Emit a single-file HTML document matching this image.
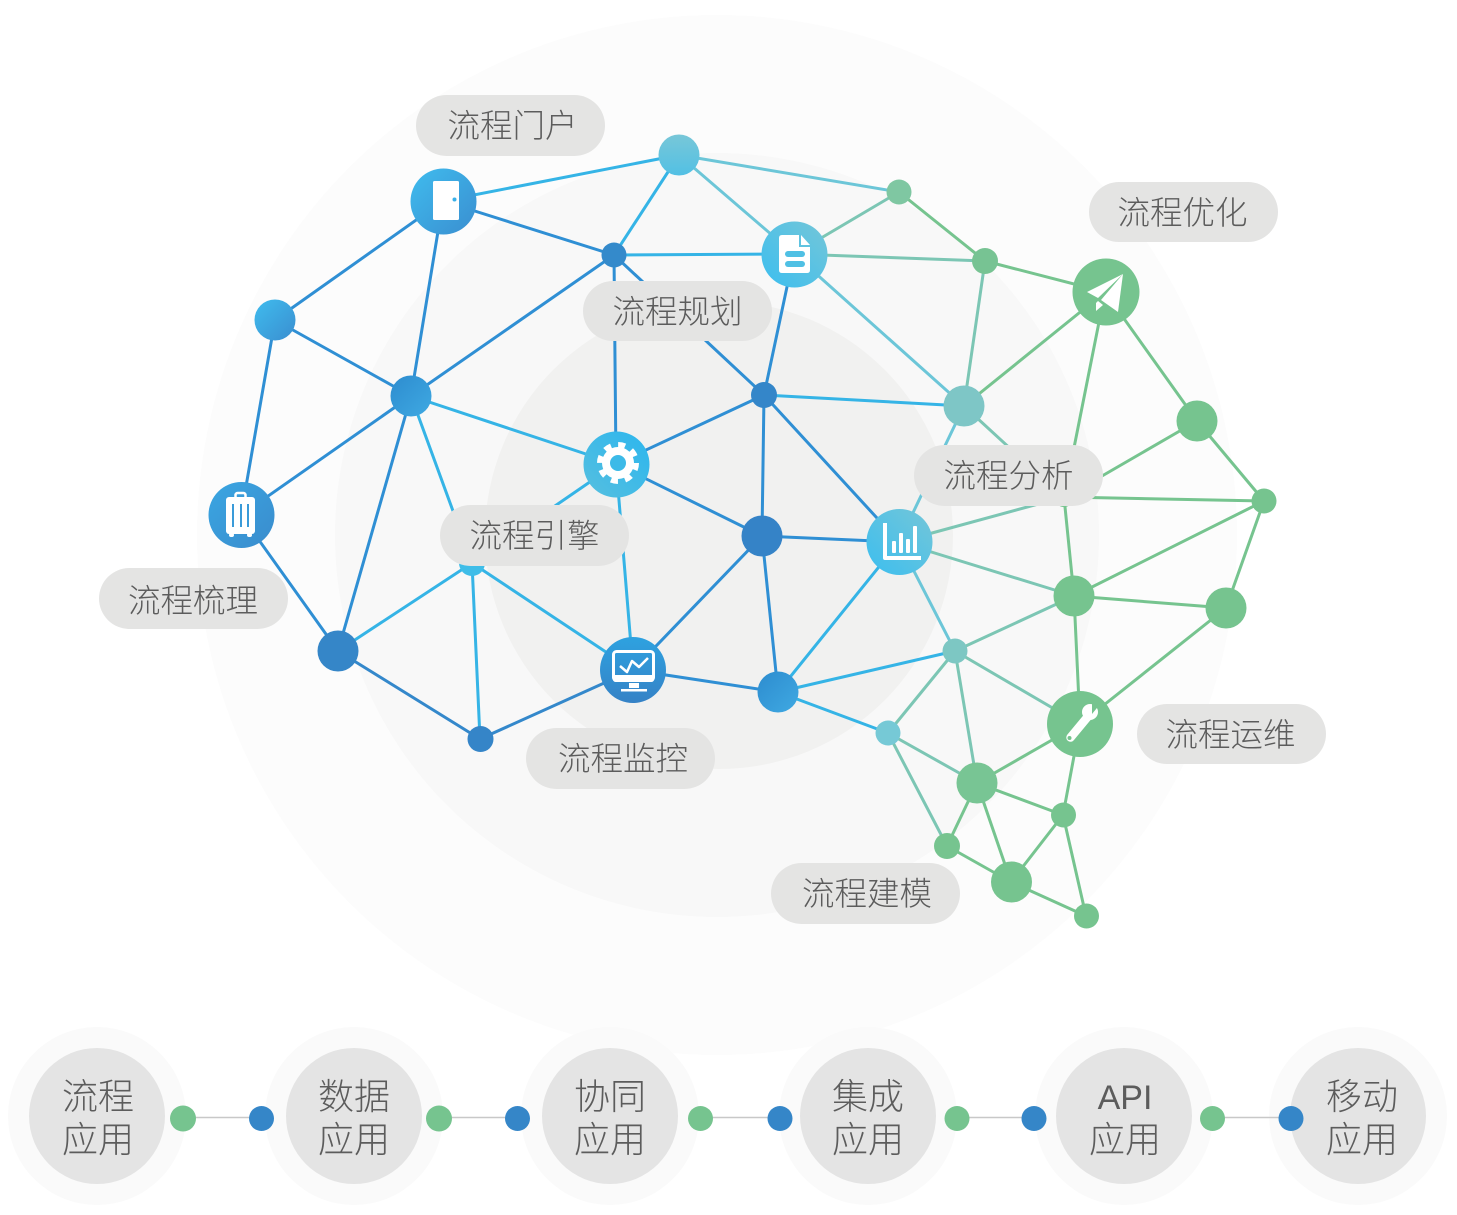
<!DOCTYPE html>
<html lang="zh"><head><meta charset="utf-8"><title>流程应用</title>
<style>
html,body{margin:0;padding:0;background:#fff}
svg{display:block}
text{font-family:"Liberation Sans","Noto Sans CJK SC",sans-serif;font-weight:300;fill:#5c5c5c;text-anchor:middle}
.p{font-size:32.500px}
.q{font-size:36px}
.e line{stroke-width:3;stroke-linecap:round}
.b{stroke:#2f8fd4}.c{stroke:#35b4e6}.t{stroke:#6cc6d8}.s{stroke:#7cc6b4}.g{stroke:#76c48f}.d{stroke:#3488cb}
</style></head><body>
<svg width="1457" height="1215" viewBox="0 0 1457 1215" xmlns="http://www.w3.org/2000/svg">
<defs>
<linearGradient id="n1" x1="0" y1="0" x2="1" y2="1"><stop offset="0" stop-color="#3fbcee"/><stop offset="1" stop-color="#3a8ed0"/></linearGradient>
<linearGradient id="n2" x1="1" y1="0" x2="0" y2="1"><stop offset="0" stop-color="#74c6d8"/><stop offset="1" stop-color="#3cbeef"/></linearGradient>
<linearGradient id="n3" x1="0" y1="0" x2="1" y2="1"><stop offset="0" stop-color="#2d8ccf"/><stop offset="1" stop-color="#3fa9e2"/></linearGradient>
<linearGradient id="n4" x1="1" y1="0" x2="0" y2="1"><stop offset="0" stop-color="#2cb6ee"/><stop offset="1" stop-color="#56bfdf"/></linearGradient>
<linearGradient id="n5" x1="0" y1="0" x2="1" y2="1"><stop offset="0" stop-color="#3aa6e2"/><stop offset="1" stop-color="#3a8ccd"/></linearGradient>
<linearGradient id="n6" x1="0" y1="0" x2="0" y2="1"><stop offset="0" stop-color="#2ea2e0"/><stop offset="1" stop-color="#3582c6"/></linearGradient>
<linearGradient id="n7" x1="0" y1="0" x2="0" y2="1"><stop offset="0" stop-color="#78c7d8"/><stop offset="1" stop-color="#52c0e4"/></linearGradient>
</defs>

<circle cx="717" cy="535" r="520" fill="#fcfcfc"/>
<circle cx="717" cy="535" r="382" fill="#f8f8f8"/>
<circle cx="719" cy="535" r="234" fill="#f1f1f0"/>

<g class="e">
<line class="c" x1="443" y1="201" x2="679" y2="155"/>
<line class="b" x1="443" y1="201" x2="614" y2="255"/>
<line class="b" x1="443" y1="201" x2="275" y2="320"/>
<line class="b" x1="443" y1="201" x2="411" y2="396"/>
<line class="c" x1="679" y1="155" x2="614" y2="255"/>
<line class="t" x1="679" y1="155" x2="794" y2="254"/>
<line class="t" x1="679" y1="155" x2="899" y2="192"/>
<line class="s" x1="899" y1="192" x2="794" y2="254"/>
<line class="g" x1="899" y1="192" x2="985" y2="261"/>
<line class="c" x1="794" y1="254" x2="614" y2="255"/>
<line class="s" x1="794" y1="254" x2="985" y2="261"/>
<line class="t" x1="794" y1="254" x2="964" y2="406"/>
<line class="b" x1="794" y1="254" x2="764" y2="395"/>
<line class="b" x1="614" y1="255" x2="411" y2="396"/>
<line class="b" x1="614" y1="255" x2="616" y2="464"/>
<line class="b" x1="614" y1="255" x2="764" y2="395"/>
<line class="g" x1="985" y1="261" x2="1105" y2="292"/>
<line class="s" x1="985" y1="261" x2="964" y2="406"/>
<line class="g" x1="1105" y1="292" x2="964" y2="406"/>
<line class="g" x1="1105" y1="292" x2="1064" y2="498"/>
<line class="g" x1="1105" y1="292" x2="1197" y2="421"/>
<line class="b" x1="275" y1="320" x2="411" y2="396"/>
<line class="b" x1="275" y1="320" x2="241" y2="515"/>
<line class="c" x1="411" y1="396" x2="616" y2="464"/>
<line class="b" x1="411" y1="396" x2="241" y2="515"/>
<line class="b" x1="411" y1="396" x2="338" y2="651"/>
<line class="c" x1="411" y1="396" x2="472" y2="563"/>
<line class="b" x1="764" y1="395" x2="616" y2="464"/>
<line class="c" x1="764" y1="395" x2="964" y2="406"/>
<line class="b" x1="764" y1="395" x2="762" y2="536"/>
<line class="b" x1="764" y1="395" x2="899" y2="542"/>
<line class="t" x1="964" y1="406" x2="899" y2="542"/>
<line class="s" x1="964" y1="406" x2="1064" y2="498"/>
<line class="g" x1="1197" y1="421" x2="1064" y2="498"/>
<line class="g" x1="1197" y1="421" x2="1264" y2="501"/>
<line class="g" x1="1264" y1="501" x2="1064" y2="497"/>
<line class="g" x1="1264" y1="501" x2="1074" y2="596"/>
<line class="g" x1="1264" y1="501" x2="1226" y2="608"/>
<line class="s" x1="899" y1="542" x2="1064" y2="497"/>
<line class="s" x1="899" y1="542" x2="1074" y2="596"/>
<line class="b" x1="899" y1="542" x2="762" y2="536"/>
<line class="c" x1="899" y1="542" x2="778" y2="692"/>
<line class="t" x1="899" y1="542" x2="955" y2="651"/>
<line class="b" x1="616" y1="464" x2="762" y2="536"/>
<line class="c" x1="616" y1="464" x2="472" y2="563"/>
<line class="c" x1="616" y1="464" x2="633" y2="670"/>
<line class="b" x1="241" y1="515" x2="338" y2="651"/>
<line class="c" x1="472" y1="563" x2="338" y2="651"/>
<line class="c" x1="472" y1="563" x2="480" y2="739"/>
<line class="c" x1="472" y1="563" x2="633" y2="670"/>
<line class="b" x1="762" y1="536" x2="633" y2="670"/>
<line class="b" x1="762" y1="536" x2="778" y2="692"/>
<line class="d" x1="338" y1="651" x2="480" y2="739"/>
<line class="d" x1="633" y1="670" x2="480" y2="739"/>
<line class="b" x1="633" y1="670" x2="778" y2="692"/>
<line class="c" x1="778" y1="692" x2="955" y2="651"/>
<line class="c" x1="778" y1="692" x2="888" y2="733"/>
<line class="g" x1="1064" y1="497" x2="1074" y2="596"/>
<line class="s" x1="1074" y1="596" x2="955" y2="651"/>
<line class="g" x1="1074" y1="596" x2="1226" y2="608"/>
<line class="g" x1="1074" y1="596" x2="1080" y2="724"/>
<line class="g" x1="1226" y1="608" x2="1080" y2="724"/>
<line class="s" x1="955" y1="651" x2="888" y2="733"/>
<line class="s" x1="955" y1="651" x2="977" y2="783"/>
<line class="s" x1="955" y1="651" x2="1080" y2="724"/>
<line class="s" x1="888" y1="733" x2="977" y2="783"/>
<line class="s" x1="888" y1="733" x2="947" y2="846"/>
<line class="g" x1="1080" y1="724" x2="977" y2="783"/>
<line class="g" x1="1080" y1="724" x2="1063" y2="815"/>
<line class="g" x1="977" y1="783" x2="1063" y2="815"/>
<line class="g" x1="977" y1="783" x2="947" y2="846"/>
<line class="g" x1="977" y1="783" x2="1011" y2="882"/>
<line class="g" x1="1063" y1="815" x2="1011" y2="882"/>
<line class="g" x1="1063" y1="815" x2="1086" y2="916"/>
<line class="g" x1="947" y1="846" x2="1011" y2="882"/>
<line class="g" x1="1011" y1="882" x2="1086" y2="916"/>
</g>

<!-- plain nodes -->
<circle cx="679" cy="155" r="20.500" fill="url(#n7)"/>
<circle cx="899" cy="192" r="12.500" fill="#7fc7a2"/>
<circle cx="614" cy="255" r="12.500" fill="#348acb"/>
<circle cx="985" cy="261" r="13" fill="#77c393"/>
<circle cx="275" cy="320" r="20.500" fill="url(#n1)"/>
<circle cx="411" cy="396" r="20.500" fill="url(#n3)"/>
<circle cx="764" cy="395" r="13" fill="#3486c9"/>
<circle cx="964" cy="406" r="20.500" fill="#7ec6c6"/>
<circle cx="1197" cy="421" r="20.500" fill="#76c48f"/>
<circle cx="1264" cy="501" r="12.500" fill="#76c48f"/>
<circle cx="1064" cy="497" r="10" fill="#76c48f"/>
<circle cx="762" cy="536" r="20.500" fill="#3583c7"/>
<circle cx="472" cy="563" r="13" fill="#3fbde8"/>
<circle cx="1074" cy="596" r="20.500" fill="#76c48f"/>
<circle cx="1226" cy="608" r="20.500" fill="#76c48f"/>
<circle cx="338" cy="651" r="20.500" fill="#3586c8"/>
<circle cx="955" cy="651" r="12.500" fill="#7dc7c3"/>
<circle cx="778" cy="692" r="20.500" fill="url(#n3)"/>
<circle cx="888" cy="733" r="12.500" fill="#76c9d6"/>
<circle cx="480.500" cy="739" r="13" fill="#3585c8"/>
<circle cx="977" cy="783" r="20.500" fill="#78c594"/>
<circle cx="1063.500" cy="815" r="12.500" fill="#76c48f"/>
<circle cx="947" cy="846" r="13" fill="#76c48f"/>
<circle cx="1011.500" cy="882" r="20.500" fill="#76c48f"/>
<circle cx="1086.500" cy="916" r="12.500" fill="#76c48f"/>

<!-- door -->
<circle cx="443.500" cy="201.500" r="33" fill="url(#n1)"/>
<rect x="433" y="181" width="26" height="39" rx="1.500" fill="#fff"/>
<circle cx="454.500" cy="199.500" r="2" fill="#3ab0e8"/>

<!-- document -->
<circle cx="794.500" cy="254.500" r="33" fill="url(#n2)"/>
<path d="M782 235H799V247H810V270Q810 273 807 273H782Q779 273 779 270V238Q779 235 782 235Z" fill="#fff"/>
<path d="M801 235L810 245H801Z" fill="#fff"/>
<rect x="785" y="251" width="20" height="6" rx="3" fill="#4fc0e4"/>
<rect x="785" y="261" width="20" height="6" rx="3" fill="#4fc0e4"/>

<!-- plane -->
<circle cx="1106" cy="292" r="33.500" fill="#76c48f"/>
<path d="M1123 274L1087 292L1098 298Z" fill="#fff"/>
<path d="M1123 274L1101 300L1118 312Z" fill="#fff"/>
<path d="M1096 303V311L1103 305L1098 301Z" fill="#fff"/>

<!-- gear -->
<circle cx="616.500" cy="464.500" r="33" fill="url(#n4)"/>
<circle cx="618" cy="463" r="16" fill="#fff"/>
<circle cx="618" cy="463" r="18" fill="none" stroke="#fff" stroke-width="6" stroke-dasharray="7 7.140"/>
<circle cx="618" cy="463" r="8" fill="#3cbae8"/>

<!-- suitcase -->
<circle cx="241.500" cy="515" r="33" fill="url(#n5)"/>
<rect x="226" y="497" width="29" height="37" rx="3" fill="#fff"/>
<rect x="235.500" y="493" width="10" height="6" rx="2" fill="none" stroke="#fff" stroke-width="2.500"/>
<rect x="229" y="533" width="5" height="4" rx="2" fill="#fff"/>
<rect x="247" y="533" width="5" height="4" rx="2" fill="#fff"/>
<rect x="232" y="504" width="2" height="23" fill="#3a9bd9"/>
<rect x="240" y="504" width="2" height="23" fill="#3a9bd9"/>
<rect x="247" y="504" width="2" height="23" fill="#3a9bd9"/>

<!-- chart -->
<circle cx="899.500" cy="542" r="33" fill="url(#n2)"/>
<path d="M883 523H887V556H921V560H885Q883 560 883 558Z" fill="#fff"/>
<rect x="892" y="541" width="4" height="12" rx="1" fill="#fff"/>
<rect x="899" y="533" width="4" height="20" rx="1" fill="#fff"/>
<rect x="906" y="539" width="4" height="14" rx="1" fill="#fff"/>
<rect x="913" y="526" width="4" height="27" rx="1" fill="#fff"/>

<!-- monitor -->
<circle cx="633" cy="670" r="33" fill="url(#n6)"/>
<rect x="613.500" y="651.500" width="40" height="29" rx="3" fill="none" stroke="#fff" stroke-width="3"/>
<path d="M613 675H654V679Q654 682 651 682H616Q613 682 613 679Z" fill="#fff"/>
<polyline points="620,666 627,672 632,661 639,667 648,658" fill="none" stroke="#fff" stroke-width="2.500" stroke-linejoin="round"/>
<rect x="629" y="683" width="10" height="5" fill="#fff"/>
<rect x="621" y="689" width="26" height="2.500" fill="#fff"/>

<!-- wrench -->
<circle cx="1080" cy="724" r="33" fill="#76c48f"/>
<line x1="1070.500" y1="737.500" x2="1090" y2="714" stroke="#fff" stroke-width="8.500" stroke-linecap="round"/>
<circle cx="1090" cy="712" r="8" fill="#fff"/>
<path d="M1092 701L1101 703L1092 714Z" fill="#76c48f"/>
<circle cx="1069.500" cy="738" r="2" fill="#76c48f"/>

<!-- pills -->
<g fill="#e4e4e3">
<rect x="416" y="95" width="189" height="61" rx="30.500"/>
<rect x="1089" y="182" width="189" height="60" rx="30"/>
<rect x="583" y="281" width="189" height="60" rx="30"/>
<rect x="914" y="445" width="189" height="61" rx="30.500"/>
<rect x="440" y="505" width="189" height="61" rx="30.500"/>
<rect x="99" y="568" width="189" height="61" rx="30.500"/>
<rect x="526" y="728" width="189" height="61" rx="30.500"/>
<rect x="1137" y="704" width="189" height="60" rx="30"/>
<rect x="771" y="863" width="189" height="61" rx="30.500"/>
</g>
<text class="p" x="512.500" y="137">流程门户</text>
<text class="p" x="1182.500" y="224">流程优化</text>
<text class="p" x="677.500" y="323">流程规划</text>
<text class="p" x="1008.500" y="487">流程分析</text>
<text class="p" x="534.500" y="547">流程引擎</text>
<text class="p" x="193" y="612">流程梳理</text>
<text class="p" x="623" y="770">流程监控</text>
<text class="p" x="1230.500" y="746">流程运维</text>
<text class="p" x="867" y="905">流程建模</text>

<!-- bottom row -->
<g fill="#fafafa">
<circle cx="97" cy="1116" r="89"/>
<circle cx="354" cy="1116" r="89"/>
<circle cx="610" cy="1116" r="89"/>
<circle cx="868" cy="1116" r="89"/>
<circle cx="1124" cy="1116" r="89"/>
<circle cx="1358" cy="1116" r="89"/>
</g>
<g fill="#e4e4e4">
<circle cx="97" cy="1116" r="68"/>
<circle cx="354" cy="1116" r="68"/>
<circle cx="610" cy="1116" r="68"/>
<circle cx="868" cy="1116" r="68"/>
<circle cx="1124" cy="1116" r="68"/>
<circle cx="1358" cy="1116" r="68"/>
</g>
<g stroke="#c8c8c8" stroke-width="1.500">
<line x1="183" y1="1117.500" x2="261" y2="1117.500"/>
<line x1="439" y1="1117.500" x2="517" y2="1117.500"/>
<line x1="700" y1="1117.500" x2="780" y2="1117.500"/>
<line x1="957" y1="1117.500" x2="1034" y2="1117.500"/>
<line x1="1212" y1="1117.500" x2="1291" y2="1117.500"/>
</g>
<g fill="#76c48f">
<circle cx="183" cy="1118.500" r="13"/>
<circle cx="439" cy="1118.500" r="13"/>
<circle cx="700.500" cy="1118.500" r="12.500"/>
<circle cx="957" cy="1118.500" r="12.500"/>
<circle cx="1212.500" cy="1118.500" r="12.500"/>
</g>
<g fill="#3586c8">
<circle cx="261.500" cy="1118.500" r="12.500"/>
<circle cx="517.500" cy="1118.500" r="12.500"/>
<circle cx="780" cy="1118.500" r="12.500"/>
<circle cx="1034" cy="1118.500" r="12.500"/>
<circle cx="1291" cy="1118.500" r="12.500"/>
</g>
<text class="q" x="98" y="1109">流程</text><text class="q" x="98" y="1152">应用</text>
<text class="q" x="354" y="1109">数据</text><text class="q" x="354" y="1152">应用</text>
<text class="q" x="610" y="1109">协同</text><text class="q" x="610" y="1152">应用</text>
<text class="q" x="868" y="1109">集成</text><text class="q" x="868" y="1152">应用</text>
<text x="1125" y="1109" style="font-size:34px">API</text><text class="q" x="1125" y="1152">应用</text>
<text class="q" x="1362" y="1109">移动</text><text class="q" x="1362" y="1152">应用</text>
</svg>
</body></html>
